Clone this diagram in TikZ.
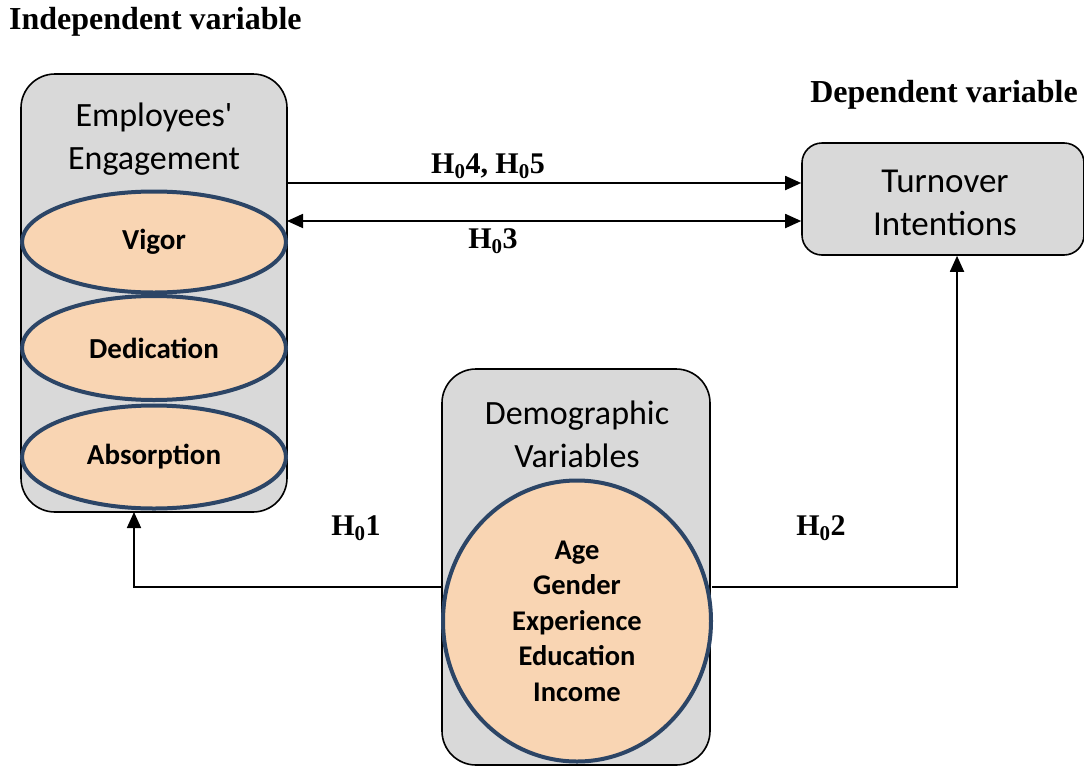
\documentclass[tikz,border=0pt]{standalone}
\usepackage{fontspec}
\setmainfont{Liberation Serif}
\newfontfamily\carlitofont{Carlito}
\usetikzlibrary{arrows.meta,shapes.geometric}
\definecolor{boxgray}{HTML}{D9D9D9}
\definecolor{peach}{HTML}{F9D5B3}
\definecolor{navy}{HTML}{2C4566}
\tikzset{
  groupbox/.style={draw=black, line width=1.6pt, fill=boxgray, rounded corners=34pt, inner sep=0pt},
  oval/.style={ellipse, draw=navy, line width=4pt, fill=peach, inner sep=0pt, font=\carlitofont\bfseries\fontsize{29}{34}\selectfont, align=center},
  title/.style={font=\carlitofont\fontsize{34}{43}\selectfont, align=center, inner sep=0pt},
  hlab/.style={font=\bfseries\fontsize{30}{33}\selectfont, inner sep=0pt},
  head/.style={font=\bfseries\fontsize{32}{36}\selectfont, inner sep=0pt},
  conn/.style={line width=1.8pt, -{Triangle[length=16pt,width=14pt]}},
}
\begin{document}
\begin{tikzpicture}[x=1pt,y=-1pt]
\useasboundingbox (0,0) rectangle (1084,766);
% headers
\node[head, anchor=west] (indep) at (9,22) {Independent variable};
\node[head, anchor=east] (dep) at (1078,95) {Dependent variable};
% left group
\node[groupbox, minimum width=266pt, minimum height=438pt] (eng) at (154,293) {};
\node[title] (engt) at (154,139) {Employees'\\Engagement};
\node[oval, minimum width=264pt, minimum height=101pt] (vigor) at (154,242) {Vigor};
\node[oval, minimum width=264pt, minimum height=104pt] (ded) at (154,348) {Dedication};
\node[oval, minimum width=264pt, minimum height=103pt] (abs) at (154,457) {Absorption};
% turnover
\node[draw=black, line width=1.6pt, fill=boxgray, rounded corners=20pt, inner sep=0pt, minimum width=282pt, minimum height=112pt] (turn) at (943,199) {};
\node[title, font=\carlitofont\fontsize{35}{43}\selectfont] (turnt) at (945,203) {Turnover\\Intentions};
% demographic
\node[groupbox, minimum width=268pt, minimum height=396pt] (demo) at (576,567) {};
\node[title] (demot) at (577,434) {Demographic\\Variables};
\node[oval, minimum width=268pt, minimum height=281pt, font=\carlitofont\bfseries\fontsize{28.5}{35.5}\selectfont] (demc) at (577,621) {Age\\Gender\\Experience\\Education\\Income};
% connectors
\coordinate (a1) at (287,183);
\coordinate (a2) at (287,221);
\draw[conn] (a1) -- (turn.west |- a1);
\draw[conn, {Triangle[length=16pt,width=14pt]}-{Triangle[length=16pt,width=14pt]}] (a2) -- (turn.west |- a2);
\node[hlab] (h45) at (488,166) {H\textsubscript{0}4, H\textsubscript{0}5};
\node[hlab] (h3) at (493,241) {H\textsubscript{0}3};
\coordinate (b1) at (442,587);
\coordinate (b2) at (712,587);
\coordinate (b1e) at (134,512);
\draw[conn] (b1) -| (b1e);
\draw[conn] (b2) -| (turn.south -| 957,0);
\node[hlab] (h1) at (356,528) {H\textsubscript{0}1};
\node[hlab] (h2) at (821,528) {H\textsubscript{0}2};
\end{tikzpicture}
\end{document}
